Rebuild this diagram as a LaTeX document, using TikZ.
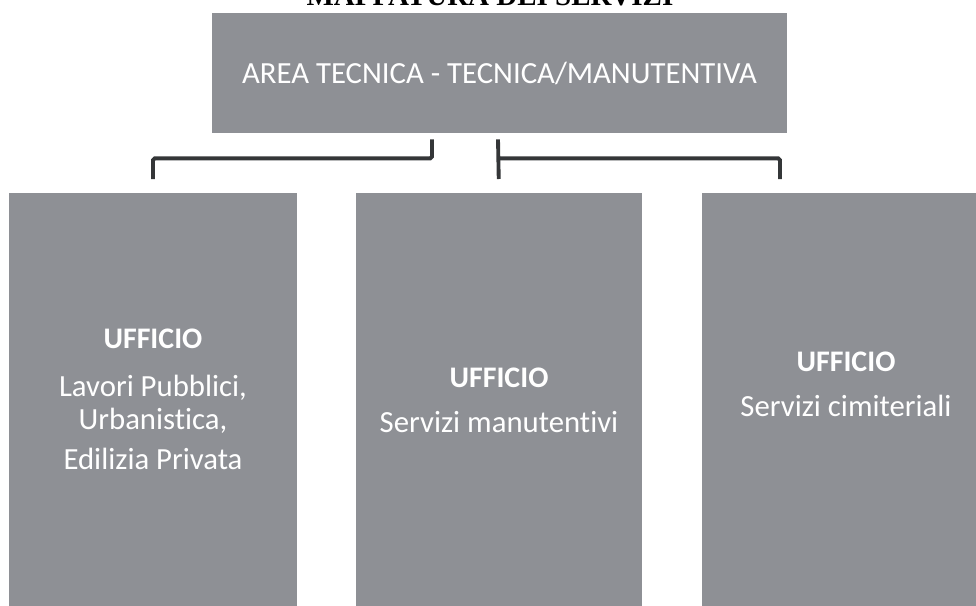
\documentclass[tikz,border=0pt]{standalone}
\usepackage{fontspec}
\setmainfont{Carlito}[Ligatures=NoCommon]
\newfontfamily\titlefont{Liberation Serif}
\usetikzlibrary{positioning}
\definecolor{boxgray}{RGB}{142,144,149}
\definecolor{linkgray}{RGB}{52,54,56}

\begin{document}
\begin{tikzpicture}[x=0.02cm,y=-0.02cm,
  box/.style={fill=boxgray,inner sep=0pt,minimum height=9cm,anchor=north},
  office/.style={text=white,align=center,inner sep=0pt,font=\fontsize{17.5}{21}\selectfont},
  link/.style={draw=linkgray,line width=2.2pt,rounded corners=1pt,shorten >=0.28cm}]
\clip (0,0) rectangle (976,605);
\node[font=\titlefont\bfseries\fontsize{16.5}{20}\selectfont,anchor=base] (title) at (490,6) {MAPPATURA DEI SERVIZI};
\node[fill=boxgray,minimum width=11.5cm,minimum height=2.4cm,text=white,font=\fontsize{17.5}{21}\selectfont] (area) at (499.5,73) {AREA TECNICA - TECNICA/MANUTENTIVA};
% uffici
\node[box,minimum width=5.76cm] (lp) at (153,193) {};
\node[box,minimum width=5.72cm] (mp) at (499,193) {};
\node[box,minimum width=5.76cm] (rp) at (846,193) {};
\node[office,below=2.72cm of lp.north] (lptext) {{\bfseries\fontsize{17}{21}\selectfont UFFICIO}\\[6pt]Lavori Pubblici,\\[-2.3pt]Urbanistica,\\[1.7pt]Edilizia Privata};
\node[office,below=3.5cm of mp.north] (mptext) {{\bfseries\fontsize{17}{21}\selectfont UFFICIO}\\[4.5pt]Servizi manutentivi};
\node[office,below=3.18cm of rp.north] (rptext) {{\bfseries\fontsize{17}{21}\selectfont UFFICIO}\\[4.5pt]Servizi cimiteriali};
% collegamenti
\coordinate (lfork) at ([xshift=-1.35cm,yshift=-0.12cm]area.south);
\coordinate (mfork) at ([xshift=-0.03cm,yshift=-0.12cm]area.south);
\draw[link] (lfork) -- ++(0,19) -| (lp.north);
\draw[link] (mfork) -- (mp.north);
\draw[link] (mfork) ++(0,19) -| ([xshift=-1.32cm]rp.north);
\end{tikzpicture}
\end{document}
